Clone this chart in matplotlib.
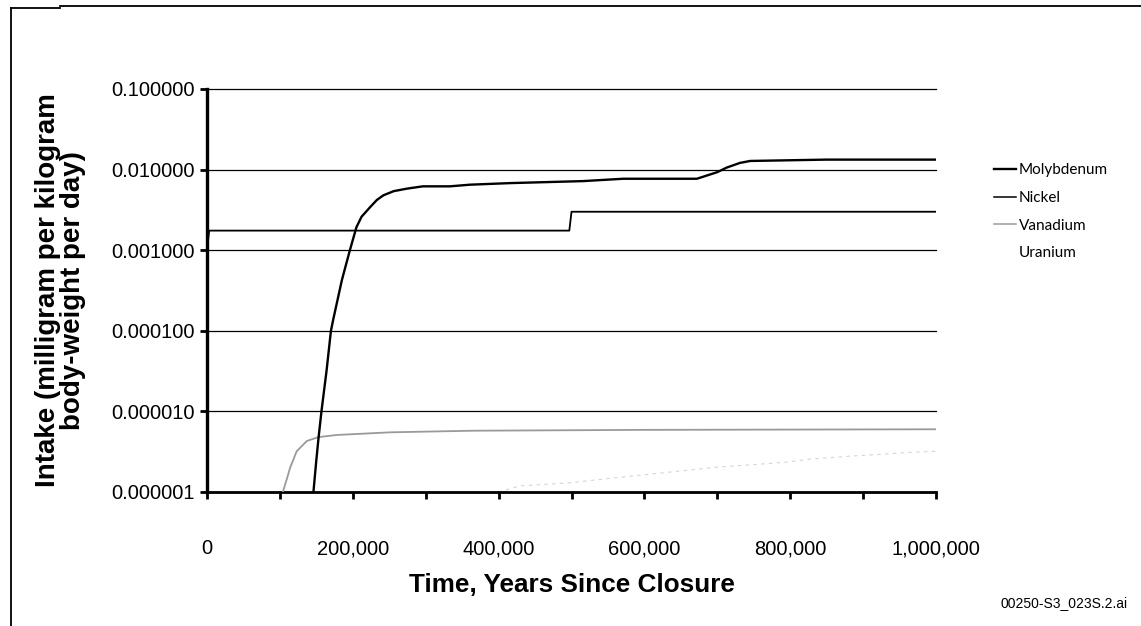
import matplotlib
matplotlib.use("Agg")
import matplotlib.pyplot as plt
from matplotlib.lines import Line2D
from matplotlib.ticker import FixedLocator, FuncFormatter, NullLocator

# ---- data ----
series_names = ["Molybdenum", "Nickel", "Vanadium", "Uranium"]

mo_x = [146000, 150000, 153000, 157000, 164000, 170000, 173000, 185000, 196000,
        205000, 212000, 224000, 233000, 242000, 256000, 274000, 296000, 333000,
        361000, 416000, 516000, 571000, 672000, 700000, 713000, 731000, 745000,
        850000, 1000000]
mo_y = [1.0e-6, 2.5e-6, 4.7e-6, 1.0e-5, 3.2e-5, 1.0e-4, 1.36e-4, 4.25e-4, 1.0e-3,
        1.93e-3, 2.6e-3, 3.44e-3, 4.2e-3, 4.8e-3, 5.4e-3, 5.8e-3, 6.2e-3, 6.2e-3,
        6.5e-3, 6.8e-3, 7.2e-3, 7.7e-3, 7.7e-3, 9.3e-3, 1.06e-2, 1.21e-2, 1.28e-2,
        1.33e-2, 1.33e-2]

ni_x = [0, 3000, 497000, 500000, 1000000]
ni_y = [1.0e-3, 1.75e-3, 1.75e-3, 3.0e-3, 3.0e-3]

v_x = [104000, 110000, 114000, 123000, 137000, 153000, 178000, 251000, 365000,
       600000, 1000000]
v_y = [1.0e-6, 1.5e-6, 2.0e-6, 3.2e-6, 4.3e-6, 4.8e-6, 5.1e-6, 5.5e-6, 5.76e-6,
       5.9e-6, 6.0e-6]

u_x = [400000, 429000, 493000, 557000, 701000, 754000, 796000, 827000, 886000,
       937000, 964000, 1000000]
u_y = [1.0e-6, 1.19e-6, 1.29e-6, 1.49e-6, 2.04e-6, 2.2e-6, 2.35e-6, 2.56e-6,
       2.8e-6, 2.98e-6, 3.1e-6, 3.2e-6]

y_ticks = [1e-6, 1e-5, 1e-4, 1e-3, 1e-2, 1e-1]
x_major = [0, 200000, 400000, 600000, 800000, 1000000]
x_minor = [100000, 300000, 500000, 700000, 900000]

x_label = "Time, Years Since Closure"
y_label = "Intake (milligram per kilogram\nbody-weight per day)"
file_tag = "00250-S3_023S.2.ai"

# ---- figure ----
W, H = 1141, 626
fig = plt.figure(figsize=(W / 100, H / 100), dpi=100)
ax = fig.add_axes([207 / W, 1 - 492 / H, (936 - 207) / W, (492 - 89) / H])

ax.set_yscale("log")
ax.set_xlim(0, 1000000)
ax.set_ylim(1e-6, 1e-1)

for yv in y_ticks:
    ax.axhline(yv, color="black", lw=0.9, zorder=1, clip_on=False)

ax.plot(v_x, v_y, color="#9a9a9a", lw=1.3, zorder=3)
ax.plot(u_x, u_y, color="#d4d4d4", lw=0.8, ls=(0, (3, 4)), zorder=2)
ax.plot(ni_x, ni_y, color="black", lw=1.3, zorder=4)
ax.plot(mo_x, mo_y, color="black", lw=1.7, zorder=5)

ax.yaxis.set_major_locator(FixedLocator(y_ticks))
ax.yaxis.set_minor_locator(NullLocator())
ax.yaxis.set_major_formatter(FuncFormatter(lambda v, p: f"{v:.6f}"))
ax.xaxis.set_major_locator(FixedLocator(x_major))
ax.xaxis.set_minor_locator(FixedLocator(x_minor))
ax.xaxis.set_major_formatter(FuncFormatter(lambda v, p: f"{int(v):,}"))

tick_font = "Liberation Sans"
for lab in ax.get_xticklabels() + ax.get_yticklabels():
    lab.set_fontfamily(tick_font)
ax.tick_params(axis="both", which="major", labelsize=14.5, length=5, width=2,
               direction="out", color="black")
ax.tick_params(axis="x", which="minor", length=5, width=2, direction="out")
ax.tick_params(axis="x", pad=29)
ax.tick_params(axis="y", pad=4)

for s in ["top", "right"]:
    ax.spines[s].set_visible(False)
ax.spines["left"].set_linewidth(2.4)
ax.spines["bottom"].set_linewidth(2.0)

ax.set_xlabel(x_label, fontsize=18.8, fontweight="bold", family="Liberation Sans",
              labelpad=11)
ax.set_ylabel(y_label, fontsize=20, fontweight="bold", family="Liberation Sans",
              labelpad=18, linespacing=0.97)

# legend
handles = [
    Line2D([], [], color="black", lw=1.7),
    Line2D([], [], color="black", lw=1.1),
    Line2D([], [], color="#9a9a9a", lw=1.1),
    Line2D([], [], color="white", lw=0.5),
]
fig.legend(handles, series_names, loc="upper left",
           bbox_to_anchor=(988 / W, 1 - 157 / H), frameon=False,
           prop={"family": "Lato", "size": 11}, handlelength=1.4,
           handletextpad=0.2, labelspacing=0.9, borderaxespad=0)

fig.text(1128 / W, 1 - 603 / H, file_tag, ha="right", va="center",
         fontsize=10, family="Liberation Sans")

# page frame (left and top edges)
fig.add_artist(Line2D([10.5 / W, 10.5 / W], [0, 1 - 8 / H], transform=fig.transFigure,
                      color="black", lw=1.3))
fig.add_artist(Line2D([10.5 / W, 60 / W], [1 - 8 / H, 1 - 8 / H], transform=fig.transFigure,
                      color="black", lw=1.3))
fig.add_artist(Line2D([60 / W, 1], [1 - 6 / H, 1 - 6 / H], transform=fig.transFigure,
                      color="black", lw=1.3))

fig.savefig("out.png", dpi=100)
